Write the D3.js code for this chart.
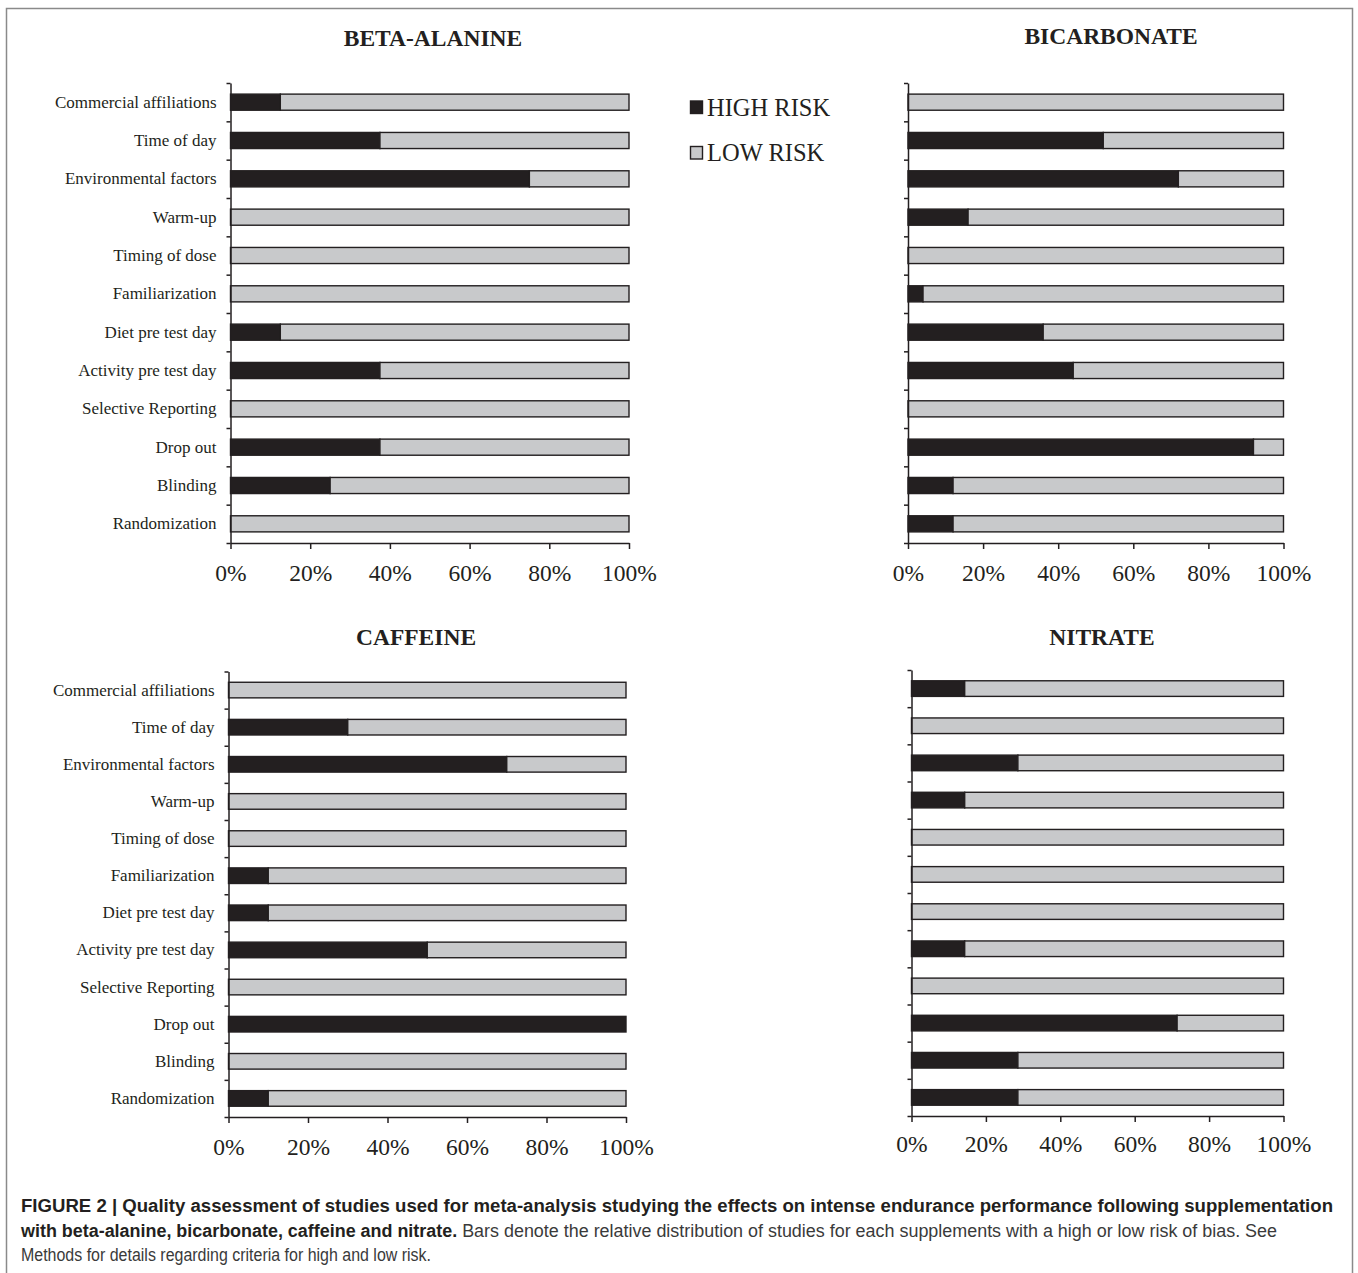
<!DOCTYPE html>
<html>
<head>
<meta charset="utf-8">
<script src="https://cdn.jsdelivr.net/npm/d3@7"></script>
<style>
  html, body { margin: 0; padding: 0; background: #ffffff; }
  svg { display: block; }
</style>
</head>
<body>
<svg id="fig" width="1358" height="1273"></svg>
<script>
// Risk-of-bias criteria, listed top to bottom
const criteria = [
  "Commercial affiliations", "Time of day", "Environmental factors", "Warm-up",
  "Timing of dose", "Familiarization", "Diet pre test day", "Activity pre test day",
  "Selective Reporting", "Drop out", "Blinding", "Randomization"
];

// Percentage of studies rated high / low risk for each criterion
const betaAlanineHigh = [12.5, 37.5, 75, 0, 0, 0, 12.5, 37.5, 0, 37.5, 25, 0];
const betaAlanineLow  = [87.5, 62.5, 25, 100, 100, 100, 87.5, 62.5, 100, 62.5, 75, 100];

const bicarbonateHigh = [0, 52, 72, 16, 0, 4, 36, 44, 0, 92, 12, 12];
const bicarbonateLow  = [100, 48, 28, 84, 100, 96, 64, 56, 100, 8, 88, 88];

const caffeineHigh = [0, 30, 70, 0, 0, 10, 10, 50, 0, 100, 0, 10];
const caffeineLow  = [100, 70, 30, 100, 100, 90, 90, 50, 100, 0, 100, 90];

const nitrateHigh = [14.3, 0, 28.6, 14.3, 0, 0, 0, 14.3, 0, 71.4, 28.6, 28.6];
const nitrateLow  = [85.7, 100, 71.4, 85.7, 100, 100, 100, 85.7, 100, 28.6, 71.4, 71.4];

const percentTicks = [0, 20, 40, 60, 80, 100];
const seriesNames = ["HIGH RISK", "LOW RISK"];

const COLORS = { high: "#231f20", low: "#c8c9cb", ink: "#231f20" };
const SERIF = "'Liberation Serif', 'Times New Roman', Times, serif";
const SANS = "'Liberation Sans', Arial, Helvetica, sans-serif";

const svg = d3.select("#fig");

// Figure frame
svg.append("rect")
  .attr("x", 6.5).attr("y", 8.5)
  .attr("width", 1346).attr("height", 1300)
  .attr("fill", "none").attr("stroke", "#8a8a8a").attr("stroke-width", 1.5);

const panels = [
  { title: "BETA-ALANINE", high: betaAlanineHigh, low: betaAlanineLow,
    x0: 230.5, x1: 629, top: 83, bottom: 543, titleX: 433, titleY: 46, showLabels: true, tickY: 581 },
  { title: "BICARBONATE", high: bicarbonateHigh, low: bicarbonateLow,
    x0: 908, x1: 1283.5, top: 83, bottom: 543, titleX: 1111, titleY: 44, showLabels: false, tickY: 581 },
  { title: "CAFFEINE", high: caffeineHigh, low: caffeineLow,
    x0: 228.5, x1: 626, top: 671.5, bottom: 1117, titleX: 416, titleY: 645, showLabels: true, tickY: 1155 },
  { title: "NITRATE", high: nitrateHigh, low: nitrateLow,
    x0: 911.5, x1: 1283.5, top: 670, bottom: 1116, titleX: 1102, titleY: 645, showLabels: false, tickY: 1152 }
];

panels.forEach(p => {
  const g = svg.append("g");

  const x = d3.scaleLinear().domain([0, 100]).range([p.x0, p.x1]);
  const y = d3.scaleBand().domain(criteria).range([p.top, p.bottom])
    .paddingInner(0.58).paddingOuter(0.29);
  const idx = d3.scaleLinear().domain([0, criteria.length]).range([p.top, p.bottom]);

  // Panel title
  g.append("text")
    .attr("x", p.titleX).attr("y", p.titleY)
    .attr("text-anchor", "middle")
    .attr("font-family", SERIF).attr("font-weight", "bold")
    .attr("font-size", 23.5).attr("fill", COLORS.ink)
    .text(p.title);

  // Stacked bars: high risk from 0, low risk stacked after it
  const rows = criteria.map((c, i) => ({ c, high: p.high[i], low: p.low[i] }));
  const stack = d3.stack().keys(["high", "low"])(rows);

  stack.forEach(layer => {
    g.append("g")
      .selectAll("rect")
      .data(layer.filter(d => d[1] - d[0] > 0))
      .join("rect")
      .attr("x", d => x(d[0]))
      .attr("y", d => y(d.data.c))
      .attr("width", d => x(d[1]) - x(d[0]))
      .attr("height", y.bandwidth())
      .attr("fill", COLORS[layer.key])
      .attr("stroke", COLORS.ink)
      .attr("stroke-width", 1.4);
  });

  // Vertical axis with ticks between categories
  const yTickAxis = d3.axisLeft(idx)
    .tickValues(d3.range(criteria.length + 1))
    .tickSize(4).tickSizeOuter(0).tickFormat("");
  const ya = g.append("g").attr("transform", `translate(${p.x0},0)`).call(yTickAxis);
  ya.selectAll("path, line").attr("stroke", COLORS.ink).attr("stroke-width", 1.5);

  // Category labels
  if (p.showLabels) {
    const labelAxis = d3.axisLeft(y).tickSize(0).tickPadding(14);
    const la = g.append("g").attr("transform", `translate(${p.x0},0)`).call(labelAxis);
    la.select(".domain").remove();
    la.selectAll("text")
      .attr("font-family", SERIF).attr("font-size", 17).attr("fill", COLORS.ink);
  }

  // Horizontal percentage axis
  const xAxis = d3.axisBottom(x).tickValues(percentTicks)
    .tickFormat(d => d + "%").tickSize(6).tickSizeOuter(0).tickPadding(0);
  const xa = g.append("g").attr("transform", `translate(0,${p.bottom})`).call(xAxis);
  xa.selectAll("path, line").attr("stroke", COLORS.ink).attr("stroke-width", 1.5);
  xa.selectAll("text")
    .attr("font-family", SERIF).attr("font-size", 23.5).attr("fill", COLORS.ink)
    .attr("dy", null)
    .attr("y", p.tickY - p.bottom);
});

// Legend
const legend = svg.append("g");
seriesNames.forEach((name, i) => {
  const ly = 101 + i * 45.5;
  legend.append("rect")
    .attr("x", 690.5).attr("y", ly).attr("width", 12).attr("height", 12.5)
    .attr("fill", i === 0 ? COLORS.high : COLORS.low)
    .attr("stroke", COLORS.ink).attr("stroke-width", 1.4);
  legend.append("text")
    .attr("x", 707).attr("y", ly + 14.5)
    .attr("font-family", SERIF).attr("font-size", 24.5).attr("fill", COLORS.ink)
    .text(name);
});

// Caption
const cap = svg.append("g").attr("font-family", SANS).attr("font-size", 17.5);
cap.append("text")
  .attr("x", 21).attr("y", 1212)
  .attr("textLength", 1312).attr("lengthAdjust", "spacingAndGlyphs")
  .attr("font-weight", "bold").attr("fill", "#231f20")
  .text("FIGURE 2 | Quality assessment of studies used for meta-analysis studying the effects on intense endurance performance following supplementation");
const line2 = cap.append("text")
  .attr("x", 21).attr("y", 1237)
  .attr("textLength", 1256).attr("lengthAdjust", "spacingAndGlyphs");
line2.append("tspan").attr("font-weight", "bold").attr("fill", "#231f20")
  .text("with beta-alanine, bicarbonate, caffeine and nitrate.");
line2.append("tspan").attr("fill", "#3a3a3a")
  .text(" Bars denote the relative distribution of studies for each supplements with a high or low risk of bias. See");
cap.append("text")
  .attr("x", 21).attr("y", 1261)
  .attr("textLength", 410).attr("lengthAdjust", "spacingAndGlyphs")
  .attr("fill", "#3a3a3a")
  .text("Methods for details regarding criteria for high and low risk.");
</script>
</body>
</html>
